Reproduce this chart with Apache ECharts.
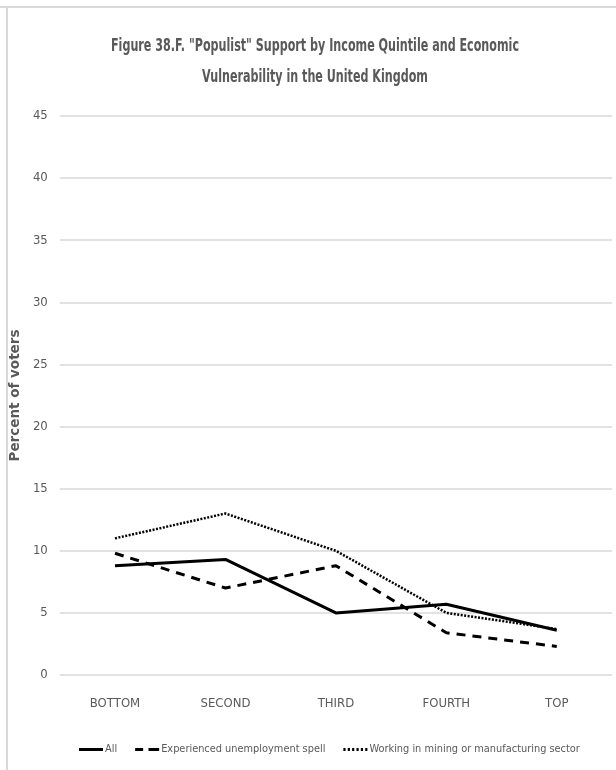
<!DOCTYPE html>
<html>
<head>
<meta charset="utf-8">
<script src="https://cdn.jsdelivr.net/npm/echarts@6/dist/echarts.min.js"></script>
<style>
  html, body { margin: 0; padding: 0; background: #fff; }
  #chart { width: 616px; height: 770px; }
</style>
</head>
<body>
<div id="chart"></div>
<script>
// Income quintiles along the x axis
const quintiles = ['BOTTOM', 'SECOND', 'THIRD', 'FOURTH', 'TOP'];

// Share of voters backing "populist" parties (%)
const allVoters      = [8.8, 9.3, 5.0, 5.7, 3.6];
const unemployedOnce = [9.8, 7.0, 8.8, 3.4, 2.3];
const miningManuf    = [11.0, 13.0, 10.0, 5.0, 3.7];

const seriesNames = ['All', 'Experienced unemployment spell', 'Working in mining or manufacturing sector'];
const titleLines = ['Figure 38.F. "Populist" Support by Income Quintile and Economic', 'Vulnerability in the United Kingdom'];
const yAxisName = 'Percent of voters';

// --- font helpers: prefer a narrow face, measure text widths ---
const ctx = document.createElement('canvas').getContext('2d');
function textWidth(str, family, weight, size) {
  ctx.font = (weight || 'normal') + ' ' + size + 'px ' + family;
  return ctx.measureText(str).width;
}
function hasFont(name) {
  const probe = 'mmmmmmmmmmlliWW';
  return textWidth(probe, '"' + name + '", monospace', 'normal', 40) !== textWidth(probe, 'monospace', 'normal', 40);
}
const narrowFace = hasFont('Liberation Sans Narrow') ? '"Liberation Sans Narrow"'
                 : hasFont('DejaVu Sans Condensed') ? '"DejaVu Sans Condensed"' : '"Liberation Sans"';
const narrow = narrowFace + ', sans-serif';
function fit(str, family, weight, target) {
  return Math.round(20 * target / textWidth(str, family, weight, 20) * 10) / 10;
}

// Title: tall bold face squeezed horizontally to the heading's width
const titleSize = 17;
const titleScale = Math.min(1, 408 / textWidth(titleLines[0], narrow, 'bold', titleSize));
const catSize    = 13;
const legendSize = Math.min(11.5, fit(seriesNames[1], narrow, 'normal', 164));

// legend icons: solid, dashed and dotted strokes
const iconSolid  = 'path://M0,0h24v3h-24z';
const iconDashed = 'path://M3,0h6v3h-6zM13,0h8v3h-8z';
const iconDotted = 'path://M2,0h2v3h-2zM6,0h2v3h-2zM10,0h2v3h-2zM14,0h2v3h-2zM18,0h2v3h-2zM22,0h2v3h-2z';

const chart = echarts.init(document.getElementById('chart'));
chart.setOption({
  animation: false,
  backgroundColor: '#fff',
  graphic: [
    { type: 'line', shape: { x1: 0, y1: 7, x2: 616, y2: 7 }, style: { stroke: '#d9d9d9', lineWidth: 2 } },
    { type: 'line', shape: { x1: 7, y1: 7, x2: 7, y2: 770 }, style: { stroke: '#d9d9d9', lineWidth: 2 } },
    {
      type: 'text', x: 315, y: 47, scaleX: titleScale,
      style: {
        text: titleLines[0], font: 'bold ' + titleSize + 'px ' + narrow,
        fill: '#595959', align: 'center', verticalAlign: 'middle'
      }
    },
    {
      type: 'text', x: 315, y: 78, scaleX: titleScale,
      style: {
        text: titleLines[1], font: 'bold ' + titleSize + 'px ' + narrow,
        fill: '#595959', align: 'center', verticalAlign: 'middle'
      }
    }
  ],
  legend: {
    top: 739,
    left: 74,
    itemGap: 18,
    itemWidth: 24,
    itemHeight: 3,
    symbolKeepAspect: false,
    textStyle: { fontFamily: narrow, fontSize: legendSize, color: '#595959', padding: [0, 0, 0, -3] },
    data: [
      { name: seriesNames[0], icon: iconSolid },
      { name: seriesNames[1], icon: iconDashed },
      { name: seriesNames[2], icon: iconDotted }
    ]
  },
  grid: { left: 58, right: 4, top: 116, bottom: 95 },
  xAxis: {
    type: 'category',
    data: quintiles,
    boundaryGap: true,
    axisLine: { show: false },
    axisTick: { show: false },
    axisLabel: { fontFamily: narrow, fontSize: catSize, color: '#595959', margin: 22 }
  },
  yAxis: {
    type: 'value',
    min: 0,
    max: 45,
    interval: 5,
    name: yAxisName,
    nameLocation: 'middle',
    nameGap: 31,
    nameTextStyle: { fontFamily: '"DejaVu Sans", sans-serif', fontSize: 13.5, fontWeight: 'bold', color: '#595959' },
    axisLine: { show: false },
    axisTick: { show: false },
    axisLabel: { fontFamily: narrow, fontSize: catSize, color: '#595959', margin: 12 },
    splitLine: { lineStyle: { color: '#d9d9d9', width: 1.5 } }
  },
  series: [
    {
      name: seriesNames[0], type: 'line', data: allVoters,
      symbol: 'none', lineStyle: { color: '#000', width: 3, type: 'solid' },
      itemStyle: { color: '#000' }
    },
    {
      name: seriesNames[1], type: 'line', data: unemployedOnce,
      symbol: 'none', lineStyle: { color: '#000', width: 3, type: [9, 7] },
      itemStyle: { color: '#000' }
    },
    {
      name: seriesNames[2], type: 'line', data: miningManuf,
      symbol: 'none', lineStyle: { color: '#000', width: 2.5, type: [2, 1.5] },
      itemStyle: { color: '#000' }
    }
  ]
});
</script>
</body>
</html>
